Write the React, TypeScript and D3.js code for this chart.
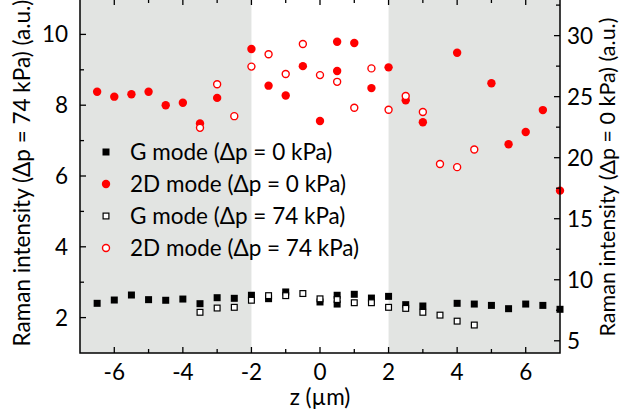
import React from "react";
import * as d3 from "d3";

const zG0 = [-6.5, -6, -5.5, -5, -4.5, -4, -3.5, -3, -2.5, -2, -1.5, -1, 0, 0.5, 0.5, 1, 1.5, 2, 2.5, 3, 4, 4.5, 5, 5.5, 6, 6.5, 7];
const gMode0 = [8.07, 8.34, 8.75, 8.37, 8.32, 8.42, 8.04, 8.53, 8.48, 8.73, 8.45, 9.0, 8.18, 8.73, 8.01, 8.81, 8.5, 8.64, 7.96, 7.85, 8.07, 8.01, 7.9, 7.63, 8.01, 7.9, 7.58];

const z2D0 = [-6.5, -6, -5.5, -5, -4.5, -4, -3.5, -3, -2, -1.5, -1, -0.5, 0, 0.5, 0.5, 1, 1.5, 2, 2.5, 3, 4, 5, 5.5, 6, 6.5, 7];
const d2D0 = [25.4, 25.0, 25.2, 25.4, 24.3, 24.5, 22.8, 24.9, 28.9, 25.9, 25.1, 27.5, 23.0, 29.5, 27.1, 29.4, 25.7, 27.4, 24.7, 22.9, 28.6, 26.1, 21.1, 22.1, 23.9, 17.3];

const z74 = [-3.5, -3, -2.5, -2, -1.5, -1, -0.5, 0, 0.5, 1, 1.5, 2, 2.5, 3, 3.5, 4, 4.5];
const gMode74 = [2.15, 2.27, 2.29, 2.49, 2.62, 2.62, 2.68, 2.53, 2.51, 2.42, 2.42, 2.29, 2.26, 2.15, 2.07, 1.9, 1.79];
const d2D74 = [7.36, 8.59, 7.69, 9.09, 9.44, 8.88, 9.73, 8.85, 8.66, 7.93, 9.04, 7.87, 8.26, 7.81, 6.34, 6.25, 6.75];

const xTicks = [-6, -4, -2, 0, 2, 4, 6];
const xMinor = [-5, -3, -1, 1, 3, 5];
const yLTicks = [2, 4, 6, 8, 10];
const yLMinor = [3, 5, 7, 9];
const yRTicks = [5, 10, 15, 20, 25, 30];
const yRMinor = [7.5, 12.5, 17.5, 22.5, 27.5, 32.5];
const shaded = [[-7, -2], [2, 7]];
const legendItems = [
  "G mode (Δp = 0 kPa)",
  "2D mode (Δp = 0 kPa)",
  "G mode (Δp = 74 kPa)",
  "2D mode (Δp = 74 kPa)",
];

const W = 621, H = 416;
const L = 80, R = 560, B = 353, T = -1;
const FONT = "Lato, 'Open Sans', sans-serif";
const FS = 22.5;

export default function App() {
  const x = d3.scaleLinear().domain([-7, 7]).range([L, R]);
  const yL = d3.scaleLinear().domain([1, 11]).range([B, T]);
  const yR = d3.scaleLinear().domain([4, 33]).range([B, T]);
  const red = "#ff0000";
  const sq = 7;
  const r = 3.8;

  const marker = (i: number, cx: number, cy: number) => {
    if (i === 0) return <rect x={cx - sq / 2} y={cy - sq / 2} width={sq} height={sq} fill="#000" />;
    if (i === 1) return <circle cx={cx} cy={cy} r={r + 0.4} fill={red} />;
    if (i === 2) return <rect x={cx - sq / 2 + 0.6} y={cy - sq / 2 + 0.6} width={sq - 1.2} height={sq - 1.2} fill="#fff" stroke="#000" strokeWidth={1.2} />;
    return <circle cx={cx} cy={cy} r={r - 0.3} fill="#fff" stroke={red} strokeWidth={1.4} />;
  };

  return (
    <svg width={W} height={H} style={{ position: "absolute", left: 0, top: 0 }} fontFamily={FONT}>
      <rect width={W} height={H} fill="#fff" />
      {shaded.map(([a, b], i) => (
        <rect key={i} x={x(a)} y={T} width={x(b) - x(a)} height={B - T} fill="#e2e4e2" />
      ))}
      {legendItems.map((t, i) => (
        <g key={t}>
          {marker(i, 106, 152 + i * 32)}
          <text x={130} y={152 + i * 32 + 8} fontSize={FS} fill="#000">{t}</text>
        </g>
      ))}
      {gMode0.map((v, i) => <g key={"g0" + i}>{marker(0, x(zG0[i]), yR(v))}</g>)}
      {d2D0.map((v, i) => <g key={"d0" + i}>{marker(1, x(z2D0[i]), yR(v))}</g>)}
      {gMode74.map((v, i) => <g key={"g74" + i}>{marker(2, x(z74[i]), yL(v))}</g>)}
      {d2D74.map((v, i) => <g key={"d74" + i}>{marker(3, x(z74[i]), yL(v))}</g>)}
      <rect x={L} y={T} width={R - L} height={B - T} fill="none" stroke="#000" strokeWidth={1.5} />
      {xTicks.map((t) => (
        <g key={"xt" + t}>
          <line x1={x(t)} x2={x(t)} y1={B} y2={B - 6} stroke="#000" strokeWidth={1.3} />
          <line x1={x(t)} x2={x(t)} y1={T} y2={T + 6} stroke="#000" strokeWidth={1.3} />
          <text x={x(t)} y={380} textAnchor="middle" fontSize={FS}>{t < 0 ? "-" + Math.abs(t) : t}</text>
        </g>
      ))}
      {xMinor.map((t) => (
        <g key={"xm" + t}>
          <line x1={x(t)} x2={x(t)} y1={B} y2={B - 4} stroke="#000" strokeWidth={1.3} />
          <line x1={x(t)} x2={x(t)} y1={T} y2={T + 4} stroke="#000" strokeWidth={1.3} />
        </g>
      ))}
      {yLTicks.map((t) => (
        <g key={"yl" + t}>
          <line x1={L} x2={L + 6} y1={yL(t)} y2={yL(t)} stroke="#000" strokeWidth={1.3} />
          <text x={68} y={yL(t) + 8} textAnchor="end" fontSize={FS}>{t}</text>
        </g>
      ))}
      {yLMinor.map((t) => (
        <line key={"ylm" + t} x1={L} x2={L + 4} y1={yL(t)} y2={yL(t)} stroke="#000" strokeWidth={1.3} />
      ))}
      {yRTicks.map((t) => (
        <g key={"yr" + t}>
          <line x1={R} x2={R - 6} y1={yR(t)} y2={yR(t)} stroke="#000" strokeWidth={1.3} />
          <text x={567} y={yR(t) + 8} textAnchor="start" fontSize={FS}>{t}</text>
        </g>
      ))}
      {yRMinor.map((t) => (
        <line key={"yrm" + t} x1={R} x2={R - 4} y1={yR(t)} y2={yR(t)} stroke="#000" strokeWidth={1.3} />
      ))}
      <text x={320} y={405} textAnchor="middle" fontSize={FS}>z (µm)</text>
      <text transform={`translate(30,173) rotate(-90)`} textAnchor="middle" fontSize={FS}>Raman intensity (Δp = 74 kPa) (a.u.)</text>
      <text transform={`translate(615,177) rotate(-90)`} textAnchor="middle" fontSize={21.5}>Raman intensity (Δp = 0 kPa) (a.u.)</text>
    </svg>
  );
}
